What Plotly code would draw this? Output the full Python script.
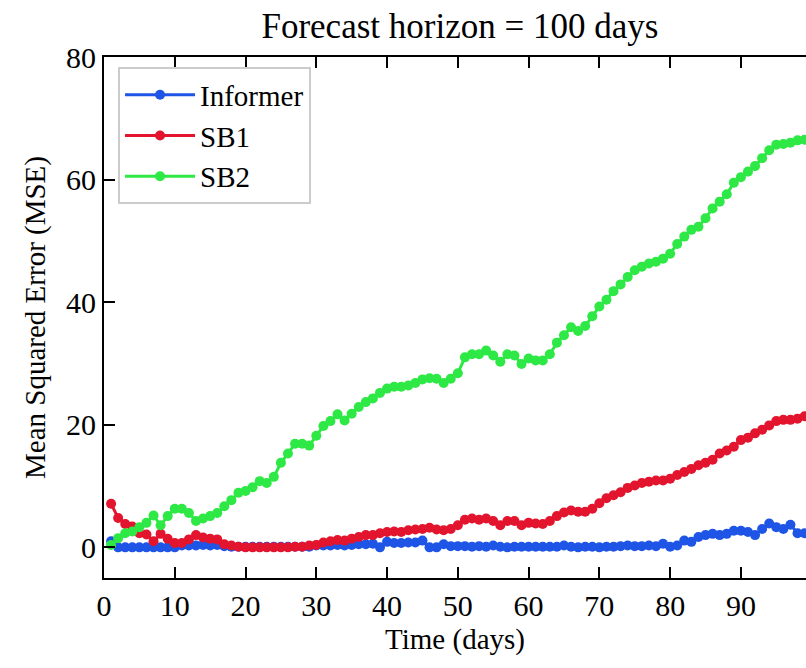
import plotly.graph_objects as go

# Forecast day index
days = list(range(1, 100))

# Mean squared error per forecast day
informer_mse = [
    1.0, 0.0, 0.0, 0.0, 0.0, 0.0, 0.0, 0.0, 0.0, 0.0,
    0.3, 0.3, 0.3, 0.4, 0.3, 0.4, 0.2, 0.1, 0.1, 0.1,
    0.1, 0.1, 0.1, 0.1, 0.1, 0.1, 0.1, 0.1, 0.1, 0.3,
    0.3, 0.3, 0.4, 0.3, 0.4, 0.5, 0.5, 0.6, 0.0, 0.9,
    0.7, 0.7, 0.8, 0.8, 1.1, 0.0, 0.0, 0.5, 0.2, 0.2,
    0.2, 0.1, 0.2, 0.1, 0.3, 0.1, 0.0, 0.1, 0.1, 0.1,
    0.1, 0.1, 0.1, 0.1, 0.3, 0.1, 0.0, 0.1, 0.1, 0.0,
    0.1, 0.1, 0.2, 0.3, 0.2, 0.2, 0.3, 0.2, 0.6, 0.1,
    0.3, 1.1, 0.9, 1.7, 2.0, 2.2, 2.0, 2.2, 2.7, 2.7,
    2.5, 2.0, 3.0, 3.9, 3.3, 3.0, 3.7, 2.3, 2.3,
]

sb1_mse = [
    7.1, 4.8, 3.8, 3.4, 2.3, 2.1, 1.0, 2.2, 1.4, 0.7,
    0.7, 1.3, 2.0, 1.6, 1.4, 1.3, 0.5, 0.3, 0.1, 0.0,
    0.0, 0.0, 0.0, 0.0, 0.0, 0.0, 0.1, 0.1, 0.3, 0.4,
    0.8, 1.0, 1.2, 1.1, 1.4, 1.7, 2.0, 2.0, 2.3, 2.5,
    2.6, 2.5, 2.8, 2.9, 3.0, 3.2, 2.9, 2.8, 3.0, 3.6,
    4.5, 4.7, 4.5, 4.7, 4.3, 3.6, 4.3, 4.3, 3.6, 4.0,
    3.9, 3.8, 4.3, 5.1, 5.7, 6.0, 5.8, 5.8, 6.3, 7.2,
    8.0, 8.5, 9.0, 9.7, 10.1, 10.5, 10.7, 10.9, 10.9, 11.2,
    11.8, 12.3, 12.8, 13.4, 13.8, 14.3, 15.3, 15.8, 16.4, 17.5,
    17.9, 18.6, 19.2, 19.9, 20.6, 20.8, 20.8, 21.0, 21.4,
]

sb2_mse = [
    0.4, 1.5, 2.3, 2.6, 3.3, 4.0, 5.2, 3.6, 5.1, 6.3,
    6.3, 5.6, 4.3, 4.7, 5.1, 5.6, 6.7, 7.7, 8.9, 9.2,
    9.8, 10.8, 10.5, 11.5, 13.8, 15.3, 16.9, 16.9, 16.6, 18.2,
    19.8, 20.6, 21.7, 20.7, 21.8, 22.9, 23.7, 24.3, 25.2, 25.9,
    26.2, 26.2, 26.4, 26.8, 27.4, 27.6, 27.5, 26.8, 27.5, 28.4,
    31.0, 31.5, 31.5, 32.1, 31.3, 30.3, 31.5, 31.3, 29.9, 30.8,
    30.5, 30.5, 31.5, 33.4, 34.6, 35.9, 35.3, 36.1, 37.7, 39.3,
    40.4, 41.8, 42.9, 44.1, 45.2, 45.8, 46.3, 46.6, 47.1, 47.9,
    49.5, 50.7, 51.8, 52.3, 53.7, 55.3, 56.4, 57.6, 59.5, 60.4,
    61.3, 62.2, 63.5, 64.8, 65.7, 65.8, 66.0, 66.4, 66.5,
]

x_ticks = [0, 10, 20, 30, 40, 50, 60, 70, 80, 90, 100]
y_ticks = [0, 20, 40, 60, 80]

series = [
    ("Informer", informer_mse, "#1f55e6"),
    ("SB1", sb1_mse, "#e3142d"),
    ("SB2", sb2_mse, "#2de845"),
]

FONT = "Liberation Serif, Times New Roman, serif"

fig = go.Figure()
for name, values, color in series:
    fig.add_trace(go.Scatter(
        x=days, y=values, name=name, mode="lines+markers",
        line=dict(color=color, width=3),
        marker=dict(color=color, size=10),
    ))

axis_common = dict(
    showline=True, linecolor="black", linewidth=2,
    ticks="inside", ticklen=11, tickwidth=2, tickcolor="black",
    showgrid=False, zeroline=False,
    tickfont=dict(family=FONT, size=30, color="black"),
)

fig.update_layout(
    width=806, height=668,
    margin=dict(l=104, r=0, t=57, b=90),
    paper_bgcolor="white", plot_bgcolor="white",
    font=dict(family=FONT, color="black"),
    title=dict(
        text="Forecast horizon = 100 days",
        font=dict(family=FONT, size=35, color="black"),
        x=0.507, xref="paper", xanchor="center",
        y=1 - 26 / 668, yref="container", yanchor="middle",
    ),
    xaxis=dict(
        range=[0, 99.2], tickvals=x_ticks, mirror="ticks",
        title=dict(text="Time (days)", font=dict(family=FONT, size=29), standoff=8),
        **axis_common,
    ),
    yaxis=dict(
        range=[-5, 80], tickvals=y_ticks, mirror=False,
        title=dict(text="Mean Squared Error (MSE)", font=dict(family=FONT, size=29), standoff=12),
        **axis_common,
    ),
    legend=dict(
        x=0.02, y=0.98, xanchor="left", yanchor="top",
        bgcolor="rgba(255,255,255,0.9)", bordercolor="#cccccc", borderwidth=2,
        font=dict(family=FONT, size=29, color="black"),
        itemwidth=70,
    ),
    showlegend=True,
)

fig.write_html("out.html", config={"displayModeBar": False})
